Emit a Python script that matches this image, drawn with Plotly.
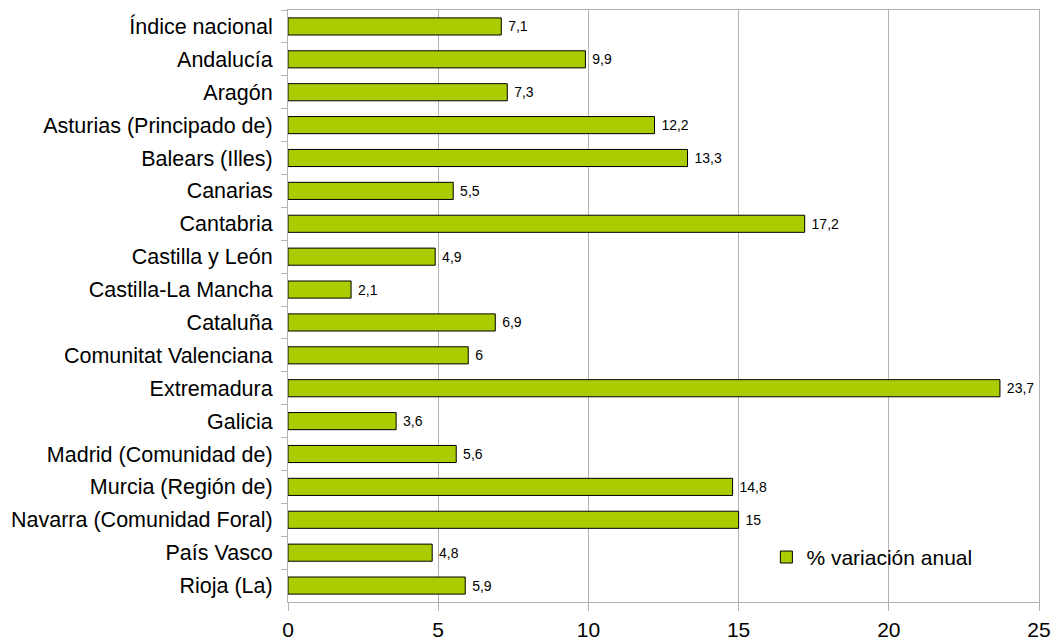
import plotly.graph_objects as go

categories = ["Índice nacional", "Andalucía", "Aragón", "Asturias (Principado de)",
              "Balears (Illes)", "Canarias", "Cantabria", "Castilla y León",
              "Castilla-La Mancha", "Cataluña", "Comunitat Valenciana", "Extremadura",
              "Galicia", "Madrid (Comunidad de)", "Murcia (Región de)",
              "Navarra (Comunidad Foral)", "País Vasco", "Rioja (La)"]
values = [7.1, 9.9, 7.3, 12.2, 13.3, 5.5, 17.2, 4.9, 2.1, 6.9, 6, 23.7, 3.6, 5.6, 14.8, 15, 4.8, 5.9]
series_name = "% variación anual"
x_ticks = [0, 5, 10, 15, 20, 25]

def fmt(v):
    s = ("%g" % v)
    return " " + s.replace(".", ",")

labels = [fmt(v) for v in values]

fig = go.Figure()
fig.add_trace(go.Bar(
    y=categories, x=values, orientation="h", name=series_name,
    text=labels, textposition="outside",
    textfont=dict(family="Liberation Sans, Arial, sans-serif", size=14, color="#000000"),
    marker=dict(color="#aacc00", line=dict(color="#000000", width=1)),
    cliponaxis=False,
))

fig.update_layout(
    width=1054, height=643,
    margin=dict(l=288, r=15, t=10, b=41, autoexpand=False),
    paper_bgcolor="white", plot_bgcolor="white",
    font=dict(family="Liberation Sans, Arial, sans-serif", color="#000000"),
    bargap=0.48,
    showlegend=True,
    legend=dict(x=0.637, y=0.11, xanchor="left", yanchor="top",
                bgcolor="rgba(0,0,0,0)", font=dict(size=21)),
    xaxis=dict(range=[0, 25], tickvals=x_ticks, showgrid=True, gridcolor="#b3b3b3",
               gridwidth=1, zeroline=False, ticks="outside", ticklen=8,
               tickcolor="#b3b3b3", tickfont=dict(size=21), ticklabelstandoff=1,
               showline=True, linecolor="#b3b3b3", mirror=True, automargin=False),
    yaxis=dict(autorange="reversed", tickson="boundaries", ticks="outside",
               ticklen=6, tickcolor="#b3b3b3", tickfont=dict(size=21.5),
               ticklabelstandoff=10, automargin=False,
               showline=True, linecolor="#b3b3b3", mirror=True, showgrid=False),
)

fig.write_html("out.html", config={"displayModeBar": False},
               post_script="document.body.style.margin='0';")
